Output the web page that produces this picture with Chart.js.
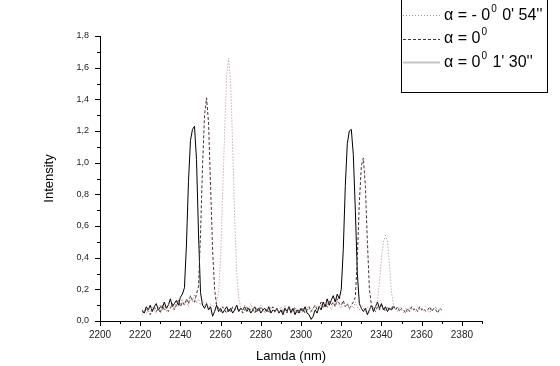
<!DOCTYPE html>
<html lang="en">
<head>
  <meta charset="UTF-8" />
  <title>Intensity vs Lamda</title>
  <script src="https://cdn.jsdelivr.net/npm/chart.js"></script>
  <style>
    html, body { margin: 0; padding: 0; background: #fff; }
    #wrap { width: 560px; height: 366px; }
  </style>
</head>
<body>
  <div id="wrap"><canvas id="spectrum"></canvas></div>

  <script>
    // wavelengths (nm), 1 nm step
    const lamdaLong = [
      2221,2222,2223,2224,2225,2226,2227,2228,2229,2230,
      2231,2232,2233,2234,2235,2236,2237,2238,2239,2240,
      2241,2242,2243,2244,2245,2246,2247,2248,2249,2250,
      2251,2252,2253,2254,2255,2256,2257,2258,2259,2260,
      2261,2262,2263,2264,2265,2266,2267,2268,2269,2270,
      2271,2272,2273,2274,2275,2276,2277,2278,2279,2280,
      2281,2282,2283,2284,2285,2286,2287,2288,2289,2290,
      2291,2292,2293,2294,2295,2296,2297,2298,2299,2300,
      2301,2302,2303,2304,2305,2306,2307,2308,2309,2310,
      2311,2312,2313,2314,2315,2316,2317,2318,2319,2320,
      2321,2322,2323,2324,2325,2326,2327,2328,2329,2330,
      2331,2332,2333,2334,2335,2336,2337,2338,2339,2340,
      2341,2342,2343,2344,2345,2346,2347,2348,2349,2350,
      2351,2352,2353,2354,2355,2356,2357,2358,2359,2360,
      2361,2362,2363,2364,2365,2366,2367,2368,2369,2370
    ];

    // alpha = -0deg 0' 54''  (dotted)
    const intensityMinus54 = [
      0.04,0.06,0.05,0.08,0.06,0.09,0.07,0.05,0.08,0.10,
      0.07,0.09,0.06,0.11,0.08,0.10,0.07,0.12,0.09,0.11,
      0.14,0.10,0.13,0.09,0.15,0.12,0.17,0.11,0.14,0.10,
      0.13,0.09,0.12,0.08,0.11,0.09,0.10,0.12,0.18,0.40,
      0.80,1.20,1.55,1.66,1.50,1.10,0.65,0.30,0.14,0.09,
      0.07,0.10,0.06,0.08,0.11,0.07,0.09,0.06,0.08,0.10,
      0.07,0.05,0.08,0.06,0.09,0.07,0.05,0.08,0.06,0.09,
      0.07,0.10,0.06,0.08,0.05,0.07,0.09,0.06,0.08,0.05,
      0.07,0.06,0.09,0.07,0.05,0.08,0.06,0.10,0.08,0.11,
      0.09,0.12,0.08,0.10,0.07,0.11,0.09,0.13,0.10,0.08,
      0.12,0.09,0.11,0.07,0.10,0.08,0.12,0.09,0.07,0.10,
      0.08,0.06,0.09,0.07,0.10,0.08,0.09,0.12,0.25,0.40,
      0.50,0.54,0.50,0.35,0.18,0.10,0.08,0.06,0.09,0.07,
      0.05,0.08,0.06,0.09,0.07,0.08,0.06,0.09,0.07,0.08,
      0.06,0.09,0.07,0.05,0.08,0.07,0.09,0.06,0.08,0.07
    ];

    // alpha = 0deg  (dashed)
    const intensityZero = [
      0.07,0.05,0.08,0.06,0.04,0.07,0.09,0.06,0.08,0.05,
      0.10,0.07,0.09,0.06,0.08,0.11,0.07,0.10,0.13,0.09,
      0.12,0.10,0.14,0.11,0.16,0.13,0.12,0.17,0.22,0.55,
      0.98,1.30,1.41,1.25,0.85,0.45,0.20,0.10,0.08,0.06,
      0.09,0.07,0.05,0.08,0.06,0.09,0.07,0.10,0.06,0.08,
      0.05,0.07,0.09,0.06,0.08,0.07,0.05,0.08,0.06,0.09,
      0.07,0.06,0.08,0.05,0.07,0.09,0.06,0.08,0.05,0.07,
      0.06,0.08,0.05,0.09,0.07,0.06,0.08,0.05,0.07,0.06,
      0.08,0.05,0.07,0.09,0.06,0.08,0.10,0.07,0.09,0.12,
      0.08,0.11,0.09,0.13,0.10,0.12,0.09,0.14,0.11,0.10,
      0.13,0.09,0.11,0.08,0.10,0.12,0.15,0.40,0.75,0.98,
      1.03,0.85,0.50,0.20,0.10,0.08,0.06,0.09,0.07,0.10,
      0.08,0.06,0.09,0.07,0.08,0.10,0.07,0.09,0.06,0.08,
      0.07,0.05,0.08,0.06,0.09,0.07,0.08,0.06,0.09,0.07,
      0.08,0.06,0.07,0.09,0.06,0.08,0.07,0.05,0.08,0.07
    ];

    // alpha = 0deg 1' 30''  (solid), 2221..2346
    const intensityPlus130 = [
      0.06,0.05,0.09,0.07,0.10,0.06,0.09,0.11,0.07,0.09,
      0.08,0.12,0.08,0.10,0.14,0.09,0.11,0.13,0.10,0.15,
      0.17,0.21,0.48,0.88,1.14,1.21,1.23,1.02,0.55,0.18,
      0.10,0.08,0.11,0.07,0.09,0.03,0.06,0.10,0.06,0.08,
      0.05,0.07,0.09,0.06,0.08,0.05,0.07,0.10,0.06,0.08,
      0.07,0.09,0.06,0.08,0.05,0.07,0.09,0.06,0.08,0.05,
      0.07,0.08,0.06,0.09,0.05,0.07,0.06,0.08,0.05,0.07,
      0.04,0.08,0.06,0.09,0.05,0.08,0.04,0.07,0.05,0.08,
      0.06,0.09,0.05,0.04,0.01,0.03,0.07,0.05,0.09,0.07,
      0.12,0.09,0.14,0.10,0.13,0.16,0.12,0.17,0.14,0.20,
      0.45,0.85,1.12,1.20,1.21,1.05,0.70,0.30,0.11,0.08,
      0.06,0.08,0.04,0.07,0.10,0.06,0.09,0.12,0.08,0.11,
      0.07,0.09,0.06,0.08,0.07,0.09
    ];

    const legendLabels = [
      ["\u03b1 = - 0", "0", " 0' 54''"],
      ["\u03b1 = 0", "0", ""],
      ["\u03b1 = 0", "0", " 1' 30''"]
    ];

    function points(xs, ys) {
      return ys.map((y, i) => ({ x: xs[i], y: y }));
    }

    // minor/major ticks drawn outward + boxed legend with superscripts
    const extras = {
      id: "extras",
      afterDraw(chart) {
        const ctx = chart.ctx;
        const xs = chart.scales.x, ys = chart.scales.y;
        ctx.save();
        ctx.strokeStyle = "#000";
        ctx.lineWidth = 1;
        ctx.beginPath();
        xs.ticks.forEach(t => {
          const px = Math.round(xs.getPixelForValue(t.value)) + 0.5;
          const len = Math.round(t.value) % 20 === 0 ? 5 : 3;
          ctx.moveTo(px, ys.bottom);
          ctx.lineTo(px, ys.bottom + len);
        });
        ys.ticks.forEach(t => {
          const py = Math.round(ys.getPixelForValue(t.value)) + 0.5;
          const len = Math.round(t.value * 10) % 2 === 0 ? 5 : 3;
          ctx.moveTo(xs.left, py);
          ctx.lineTo(xs.left - len, py);
        });
        ctx.stroke();

        // legend box
        ctx.strokeRect(401.5, -1, 146, 93.5);
        const lineY = [15, 39, 62];
        const baseY = [20, 43, 67];
        chart.data.datasets.forEach((ds, i) => {
          const y = lineY[i] + 0.5;
          ctx.beginPath();
          ctx.setLineDash(ds.legendDash);
          ctx.strokeStyle = ds.legendColor;
          ctx.lineWidth = ds.legendWidth;
          ctx.moveTo(403, y);
          ctx.lineTo(440, y);
          ctx.stroke();
          ctx.setLineDash([]);
          const parts = legendLabels[i];
          let x = 444;
          ctx.fillStyle = "#000";
          ctx.textBaseline = "alphabetic";
          ctx.font = "16px 'Liberation Sans', Arial, sans-serif";
          ctx.fillText(parts[0], x, baseY[i]);
          x += ctx.measureText(parts[0]).width + 1;
          ctx.font = "10px 'Liberation Sans', Arial, sans-serif";
          ctx.fillText(parts[1], x, baseY[i] - 8);
          x += ctx.measureText(parts[1]).width + 1;
          ctx.font = "16px 'Liberation Sans', Arial, sans-serif";
          ctx.fillText(parts[2], x, baseY[i]);
        });
        ctx.restore();
      }
    };

    const fontFam = "'Liberation Sans', Arial, sans-serif";

    new Chart(document.getElementById("spectrum"), {
      type: "line",
      data: {
        datasets: [
          {
            label: "a = -0 0' 54''",
            data: points(lamdaLong, intensityMinus54),
            borderColor: "#b48a8a",
            borderWidth: 1,
            borderDash: [1, 2],
            legendDash: [1, 2], legendColor: "#b48a8a", legendWidth: 1
          },
          {
            label: "a = 0",
            data: points(lamdaLong, intensityZero),
            borderColor: "#4a3030",
            borderWidth: 1,
            borderDash: [3, 2],
            legendDash: [3, 2], legendColor: "#4a3030", legendWidth: 1
          },
          {
            label: "a = 0 1' 30''",
            data: points(lamdaLong, intensityPlus130),
            borderColor: "#000000",
            borderWidth: 1,
            legendDash: [], legendColor: "#c4c4c4", legendWidth: 2
          }
        ]
      },
      options: {
        responsive: true,
        maintainAspectRatio: false,
        animation: false,
        layout: { padding: { top: 36, right: 78, left: 0, bottom: 0 } },
        elements: { point: { radius: 0 }, line: { tension: 0 } },
        plugins: { legend: { display: false }, tooltip: { enabled: false } },
        scales: {
          x: {
            type: "linear",
            min: 2200,
            max: 2390,
            afterFit: s => { s.height = 45; },
            grid: { display: false, drawTicks: false },
            border: { display: true, color: "#000", width: 1 },
            ticks: {
              stepSize: 10,
              autoSkip: false,
              maxRotation: 0,
              padding: 8,
              color: "#222",
              font: { family: fontFam, size: 10 },
              callback: v => (Math.round(v) % 20 === 0 ? String(v) : "")
            },
            title: {
              display: true,
              text: "Lamda (nm)",
              color: "#000",
              font: { family: fontFam, size: 13 },
              padding: { top: 4, bottom: 2 }
            }
          },
          y: {
            min: 0,
            max: 1.8,
            afterFit: s => { s.width = 100; },
            grid: { display: false, drawTicks: false },
            border: { display: true, color: "#000", width: 1 },
            ticks: {
              stepSize: 0.1,
              autoSkip: false,
              padding: 11,
              color: "#222",
              font: { family: fontFam, size: 9 },
              callback: v => {
                const k = Math.round(v * 10);
                return k % 2 === 0 ? (k / 10).toFixed(1).replace(".", ",") : "";
              }
            },
            title: {
              display: true,
              text: "Intensity",
              color: "#000",
              font: { family: fontFam, size: 13 },
              padding: { top: 42, bottom: 0 }
            }
          }
        }
      },
      plugins: [extras]
    });
  </script>
</body>
</html>
